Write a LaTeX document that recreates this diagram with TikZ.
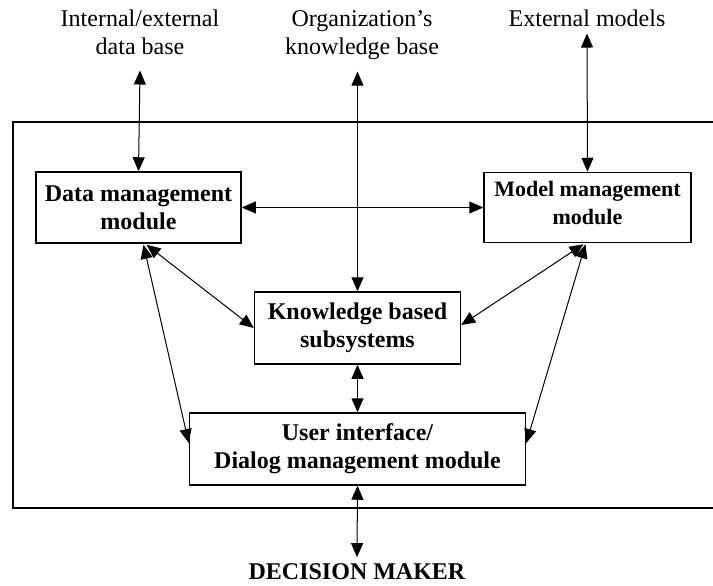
\documentclass[tikz,border=0pt]{standalone}
\usepackage{fontspec}
\setmainfont{Liberation Serif}
\usetikzlibrary{calc,arrows.meta}

\begin{document}
\begin{tikzpicture}[%
    x=0.5pt,y=-0.5pt,%
    module/.style={draw,line width=0.75pt,align=center,inner sep=0pt,%
        font=\bfseries\fontsize{12}{14}\selectfont},%
    source/.style={align=center,font=\fontsize{12}{14}\selectfont},%
    lien/.style={{Triangle[length=7pt,width=6pt]}-{Triangle[length=7pt,width=6pt]},line width=0.5pt}%
    ]
    % Système d'aide à la décision

    %
    % Définitions
    %
    \pgfmathsetmacro{\xg}{138.5};%
    \pgfmathsetmacro{\xm}{357.5};%
    \pgfmathsetmacro{\xd}{587.5};%
    \pgfmathsetmacro{\yh}{207.5};%
    \pgfmathsetmacro{\yk}{328};%
    \pgfmathsetmacro{\yu}{449};%

    \useasboundingbox (0,0) rectangle (713,585);

    % Cadre
    \draw[line width=1pt] (13,122) rectangle (722,508);

    % Sources
    \node[source] (extdb) at (140,32) {Internal/external\\data base};
    \node[source] (orgkb) at (362,35) {Organization's\\knowledge base};
    \node[source] (extmod) at (587,18) {External models};
    \node[module,draw=none,inner sep=3pt] (dm) at (357,572) {DECISION MAKER};

    % Modules
    \node[module,minimum width=102.5pt,minimum height=35.5pt] (data) at (\xg,\yh)
        {Data management\\module};
    \node[module,minimum width=103.5pt,minimum height=35pt] (model) at (\xd,\yh) {};
    \node[module,draw=none,font=\bfseries\fontsize{11}{14}\selectfont] (modeltxt)
        at ($(model.center)+(0,-5)$) {Model management\\module};
    \node[module,minimum width=103pt,minimum height=36pt] (know) at (\xm,\yk)
        {Knowledge based\\subsystems};
    \node[module,minimum width=168pt,minimum height=36pt] (user) at (\xm,\yu)
        {User interface/\\Dialog management module};

    % Liens vers l'extérieur
    \draw[lien] (data.north) -- ($(extdb.south)+(0,9)$);
    \draw[lien] (know.north) -- ($(orgkb.south -| know.north)+(0,5)$);
    \draw[lien] (model.north) -- (extmod.south);
    \draw[lien] (user.south) -- (dm.north);

    % Liens internes
    \draw[lien] (data.east) -- (model.west);
    \draw[lien] ($(data.south)+(8,1)$) -- (know.west);
    \draw[lien] ($(data.south)+(5,1)$) -- ($(user.west)+(0,-6)$);
    \draw[lien] ($(model.south)+(-4,1)$) -- ($(know.east)+(0,-3)$);
    \draw[lien] ($(model.south)+(-2,1)$) -- ($(user.east)+(0,-6)$);
    \draw[lien] (know.south) -- (user.north);

\end{tikzpicture}
\end{document}
